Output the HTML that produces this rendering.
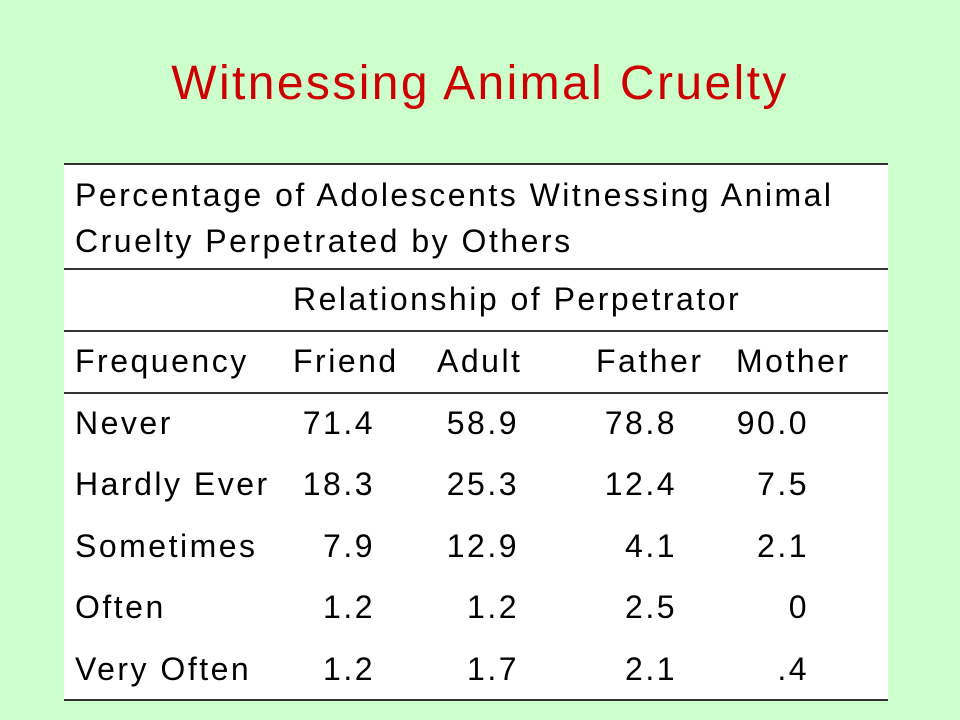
<!DOCTYPE html>
<html><head><meta charset="utf-8"><style>
body{margin:0;width:960px;height:720px;background:#ccffcc;font-family:"Liberation Sans",sans-serif;position:relative;overflow:hidden}
.t{position:absolute;white-space:nowrap;color:#000;font-size:32px;letter-spacing:2.5px;line-height:36px}
.r{text-align:right}
.h{position:absolute;left:64px;width:824px;height:1.5px;background:#333}
</style></head><body>
<div class="t" style="left:0;width:960px;text-align:center;top:56px;font-size:48px;letter-spacing:2.4px;line-height:56px;color:#cc0000">Witnessing Animal Cruelty</div>
<div style="position:absolute;left:64px;top:163px;width:824px;height:537px;background:#fff"></div>
<div class="h" style="top:163px"></div>
<div class="h" style="top:268px"></div>
<div class="h" style="top:330px"></div>
<div class="h" style="top:392px"></div>
<div class="h" style="top:699px"></div>
<div class="t" style="left:75px;top:172px;line-height:46px">Percentage of Adolescents Witnessing Animal<br>Cruelty Perpetrated by Others</div>
<div class="t" style="left:293px;top:281px">Relationship of Perpetrator</div>
<div id="rows"></div>
<script>
const headers=["Frequency","Friend","Adult","Father","Mother"];
const categories=["Never","Hardly Ever","Sometimes","Often","Very Often"];
const friend=["71.4","18.3","7.9","1.2","1.2"];
const adult=["58.9","25.3","12.9","1.2","1.7"];
const father=["78.8","12.4","4.1","2.5","2.1"];
const mother=["90.0","7.5","2.1","0",".4"];
const series=[friend,adult,father,mother];
const hx=[75,293,437,596,736];
const rx=[375,519,677,809];
const root=document.getElementById('rows');
function mk(txt,x,y,right,name){
 const d=document.createElement('div');
 d.className='t'+(right?' r':'');
 d.textContent=txt;
 if(right){d.style.left=(x-200)+'px';d.style.width='200px';}else d.style.left=x+'px';
 d.style.top=y+'px';
 
 
 root.appendChild(d);
}
headers.forEach((h,i)=>mk(h,hx[i],343,false,'column-header'));
categories.forEach((c,r)=>{
 const y=405+r*61.4;
 mk(c,75,y,false,'row-label');
 series.forEach((s,j)=>mk(s[r],rx[j],y,true,'cell-value'));
});
</script>
</body></html>
